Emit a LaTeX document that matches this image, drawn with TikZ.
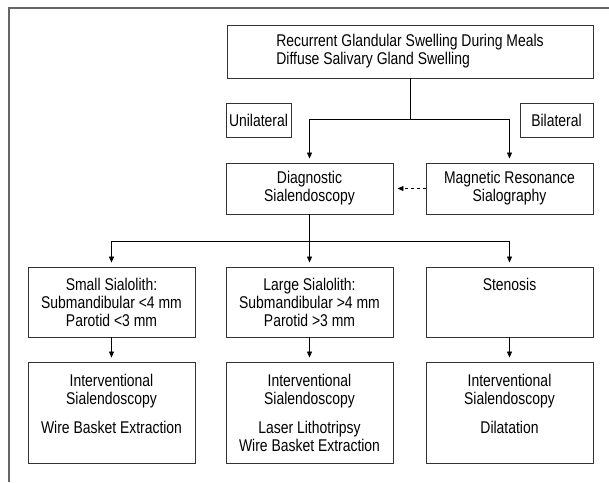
\documentclass[tikz,border=0pt]{standalone}
\usepackage{fontspec}
\setmainfont{Liberation Sans}[FakeStretch=0.82]
\usepackage{tikz}
\usetikzlibrary{arrows.meta}

\tikzset{
  box/.style={draw=black!80, line width=0.9pt, inner sep=0pt, align=center,
    font=\fontsize{17}{18}\selectfont},
  arr/.style={-{Triangle[length=6pt,width=5pt]}, line width=0.8pt, shorten >=4pt}
}

\begin{document}
\begin{tikzpicture}[x=1pt,y=-1pt]
\useasboundingbox (0,0) rectangle (609,482);

\draw[black!60, line width=2pt] (9,482) -- (9,8) -- (609,8);

\node[box, minimum width=366, minimum height=53] (swell) at (410,51.5)
  {\begin{tabular}{@{}l@{}}Recurrent Glandular Swelling During Meals\\Diffuse Salivary Gland Swelling\end{tabular}};
\node[box, minimum width=65, minimum height=34] (uni) at (258.5,120) {Unilateral};
\node[box, minimum width=73, minimum height=34] (bil) at (556.5,120) {Bilateral};

\node[box, minimum width=167, minimum height=51] (diag) at (309.5,188.5) {Diagnostic\\Sialendoscopy};
\node[box, minimum width=167, minimum height=51] (mrs) at (509.5,188.5) {Magnetic Resonance\\Sialography};

\node[box, minimum width=167, minimum height=70] (small) at (111.5,302)
  {Small Sialolith:\\Submandibular <4 mm\\Parotid <3 mm};
\node[box, minimum width=167, minimum height=70] (large) at (309.5,302)
  {Large Sialolith:\\Submandibular >4 mm\\Parotid >3 mm};
\node[box, minimum width=167, minimum height=70] (sten) at (509.5,302)
  {Stenosis\\ \mbox{}\\ \mbox{}};

\node[box, minimum width=167, minimum height=101] (wbe) at (111.5,412.5)
  {Interventional\\Sialendoscopy\\[11pt]Wire Basket Extraction\\ \mbox{}};
\node[box, minimum width=167, minimum height=101] (laser) at (309.5,412.5)
  {Interventional\\Sialendoscopy\\[11pt]Laser Lithotripsy\\Wire Basket Extraction};
\node[box, minimum width=167, minimum height=101] (dil) at (509.5,412.5)
  {Interventional\\Sialendoscopy\\[11pt]Dilatation\\ \mbox{}};

\coordinate (fork1) at (410,119);
\coordinate (fork2) at (309.5,241);

\draw[line width=0.8pt] (swell) -- (fork1);
\draw[arr] (fork1) -| (diag.north);
\draw[arr] (fork1) -| (mrs.north);
\draw[arr, dashed] (mrs.west) -- (diag.east);

\draw[line width=0.8pt] (diag) -- (fork2);
\foreach \b in {small,large,sten}{
\draw[arr] (fork2) -| (\b.north);}
\foreach \a/\b in {small/wbe,large/laser,sten/dil}{
\draw[arr] (\a) -- (\b);}
\end{tikzpicture}
\end{document}
